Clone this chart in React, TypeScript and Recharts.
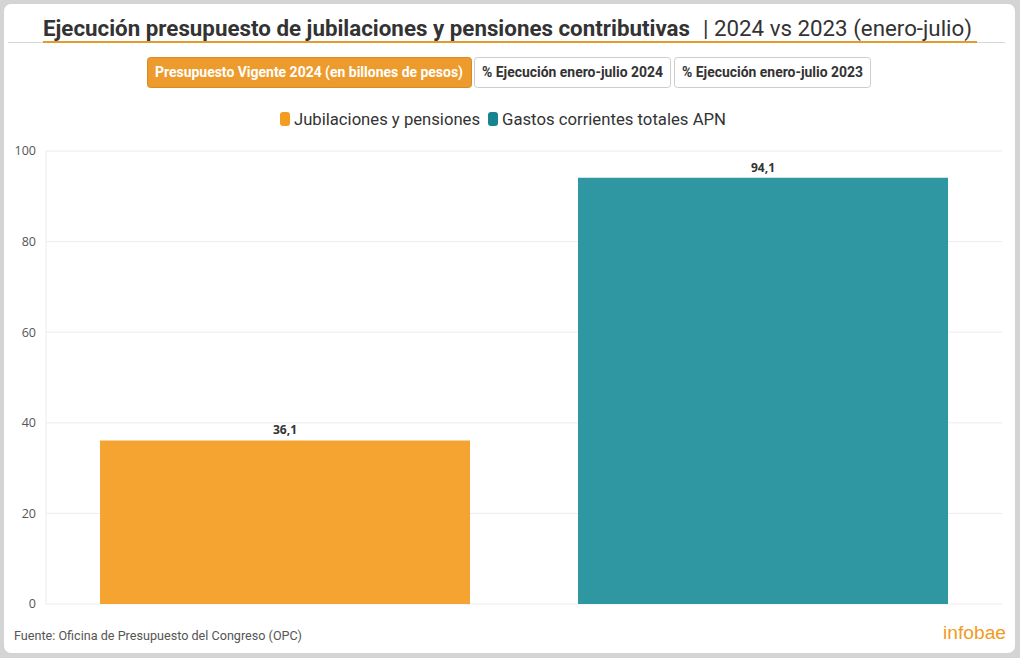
import React from 'react';
import { BarChart, Bar, XAxis, YAxis, CartesianGrid, Cell, LabelList } from 'recharts';

const categories = ['Jubilaciones y pensiones', 'Gastos corrientes totales APN'];
const values = [36.1, 94.1];
const colors = ['#F6A431', '#2E97A2'];
const legendColors = ['#F39C1F', '#17858F'];
const yTicks = [0, 20, 40, 60, 80, 100];
const buttons = ['Presupuesto Vigente 2024 (en billones de pesos)', '% Ejecución enero-julio 2024', '% Ejecución enero-julio 2023'];

const data = categories.map((name, i) => ({ name, value: values[i] }));

const fmt = (v: any) => String(v).replace('.', ',');

export default function App() {
  return (
    <div style={{ position: 'absolute', left: 0, top: 0, width: 1020, height: 658, background: '#d4d4d4', overflow: 'hidden' }}>
      <div style={{ position: 'absolute', left: 4, top: 4, width: 1011, height: 649, background: '#fff', borderRadius: 7 }} />
      <div style={{ position: 'absolute', left: 0, top: 0 }}>
        <BarChart width={1020} height={658} data={data} margin={{ top: 151, right: 18, bottom: 54, left: 6 }} barCategoryGap="11.3%">
          <CartesianGrid vertical={false} stroke="#ececec" />
          <XAxis dataKey="name" hide />
          <YAxis
            width={40}
            domain={[0, 100]}
            ticks={yTicks}
            axisLine={{ stroke: '#ececec' }}
            tickLine={false}
            tickMargin={4}
            tick={{ fill: '#555', fontSize: 12.5, fontFamily: 'Open Sans' }}
          />
          <Bar dataKey="value" isAnimationActive={false}>
            {data.map((d, i) => (
              <Cell key={d.name} fill={colors[i]} />
            ))}
            <LabelList
              dataKey="value"
              position="top"
              offset={6}
              formatter={fmt}
              style={{ fill: '#333', fontSize: 12, fontWeight: 700, fontFamily: 'Open Sans' }}
            />
          </Bar>
        </BarChart>
      </div>
      <svg width={1020} height={658} style={{ position: 'absolute', left: 0, top: 0, pointerEvents: 'none' }}>
        <line x1={8} x2={1005} y1={42.5} y2={42.5} stroke="#d8d8d8" strokeWidth={1} />
        <line x1={43} x2={977} y1={42} y2={42} stroke="#E39B2E" strokeWidth={2} />
        <text x={43} y={36} fontFamily="Roboto" fontWeight={700} fontSize={22} fill="#333" textLength={647} lengthAdjust="spacingAndGlyphs">
          Ejecución presupuesto de jubilaciones y pensiones contributivas
        </text>
        <text x={703} y={36} fontFamily="Roboto" fontWeight={400} fontSize={22} fill="#333" textLength={269} lengthAdjust="spacingAndGlyphs">
          | 2024 vs 2023 (enero-julio)
        </text>

        <rect x={147.5} y={57.5} width={324} height={30} rx={3} fill="#EE9B2D" stroke="#D98A22" />
        <text x={155} y={77} fontFamily="Roboto" fontWeight={700} fontSize={14} fill="#fff" textLength={308} lengthAdjust="spacingAndGlyphs">
          {buttons[0]}
        </text>
        <rect x={474.5} y={57.5} width={196} height={30} rx={3} fill="#fff" stroke="#cccccc" />
        <text x={482} y={77} fontFamily="Roboto" fontWeight={700} fontSize={14} fill="#333" textLength={181} lengthAdjust="spacingAndGlyphs">
          {buttons[1]}
        </text>
        <rect x={674.5} y={57.5} width={196} height={30} rx={3} fill="#fff" stroke="#cccccc" />
        <text x={682} y={77} fontFamily="Roboto" fontWeight={700} fontSize={14} fill="#333" textLength={181} lengthAdjust="spacingAndGlyphs">
          {buttons[2]}
        </text>

        <rect x={280} y={112} width={10} height={14} rx={3} fill={legendColors[0]} />
        <text x={294} y={125} fontFamily="Roboto" fontSize={17} fill="#333" textLength={186} lengthAdjust="spacingAndGlyphs">
          {categories[0]}
        </text>
        <rect x={488} y={112} width={10} height={14} rx={3} fill={legendColors[1]} />
        <text x={502} y={125} fontFamily="Roboto" fontSize={17} fill="#333" textLength={224} lengthAdjust="spacingAndGlyphs">
          {categories[1]}
        </text>

        <text x={14} y={640} fontFamily="Roboto" fontSize={13} fill="#555" textLength={288} lengthAdjust="spacingAndGlyphs">
          Fuente: Oficina de Presupuesto del Congreso (OPC)
        </text>
        <text x={943} y={639} fontFamily="Liberation Sans" fontSize={18} fill="#F29A1F" textLength={63} lengthAdjust="spacingAndGlyphs">
          infobae
        </text>
      </svg>
    </div>
  );
}
